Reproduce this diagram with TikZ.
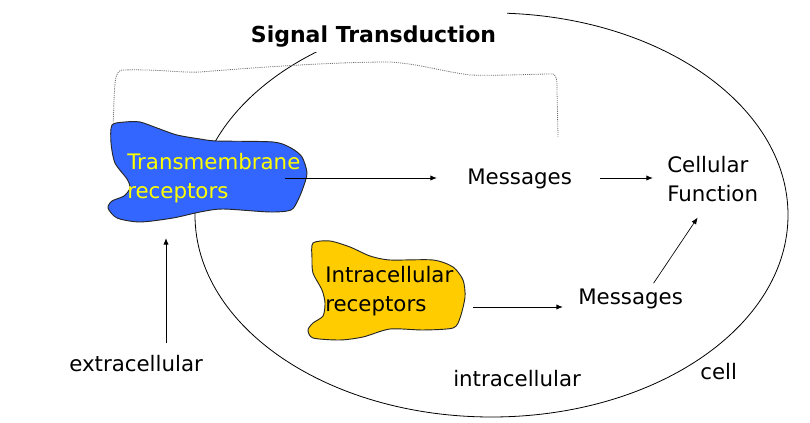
\documentclass[tikz,border=0pt]{standalone}
\usepackage{fontspec}
\setmainfont{DejaVu Sans}
\usepackage{xcolor}
\usetikzlibrary{arrows.meta}
\definecolor{tmblue}{HTML}{3366FF}
\definecolor{tmtext}{HTML}{FFFF00}
\definecolor{irgold}{HTML}{FFCC00}
\definecolor{dotgrey}{HTML}{6F6F6F}
\tikzset{
  lbl/.style={font=\fontsize{16}{21.75}\selectfont, inner sep=0pt,
    anchor=base west, align=left},
  arr/.style={-{Latex[length=5pt,width=4pt]}, line width=0.7pt},
  blob/.style={draw=black!85, line width=0.7pt}
}
\begin{document}
\begin{tikzpicture}[x=0.75pt, y=-0.75pt]
      \useasboundingbox (0,0) rectangle (810,423);
      % the cell
      \draw[line width=0.6pt] (491.5,215) ellipse [x radius=296.5, y radius=202];
      \fill[white] (240,8) rectangle (507,52);
      \node (title) [font=\fontsize{16.5}{20}\selectfont\bfseries, inner sep=0pt,
        anchor=base] at (373.5,43) {Signal Transduction};
      % dotted bracket over the receptor path
      \draw[dotgrey, line width=0.6pt, dash pattern=on 0.8pt off 0.8pt]
        (113,130) -- (114,100) .. controls (115,80) and (115,72) .. (122,70)
        .. controls (160,69) and (180,73) .. (200,72)
        .. controls (250,68) and (330,62) .. (390,62)
        .. controls (420,64) and (440,71) .. (470,75)
        .. controls (500,76) and (530,74) .. (553,74)
        .. controls (557,76) and (557,80) .. (557,90) -- (558,137);
      % receptor blobs
      \fill[tmblue] plot[smooth cycle, tension=0.45] coordinates {
        (112,125) (125,122) (140,122) (157,128) (177,135) (200,139)
        (217,141) (273,142) (291,148) (302,157) (307,173) (303,188)
        (298,200) (291,210) (270,212) (223,209) (200,212) (173,218)
        (140,222) (117,218) (108,208) (112,201) (124,196) (130,188)
        (127,179) (115,163) (111,143)};
      \draw[blob] plot[smooth cycle, tension=0.45] coordinates {
        (112,125) (125,122) (140,122) (157,128) (177,135) (200,139)
        (217,141) (273,142) (291,148) (302,157) (307,173) (303,188)
        (298,200) (291,210) (270,212) (223,209) (200,212) (173,218)
        (140,222) (117,218) (108,208) (112,201) (124,196) (130,188)
        (127,179) (115,163) (111,143)};
      \draw[blob, fill=irgold] plot[smooth cycle, tension=0.45] coordinates {
        (313,243) (330,241) (350,247) (370,256) (390,260) (433,260)
        (453,267) (463,280) (465,297) (460,318) (453,328) (423,330)
        (390,329) (363,337) (340,340) (313,338) (308,330) (313,323)
        (323,316) (325,303) (322,290) (313,273) (312,258)};
      % labels
      \node (tm) [lbl, text=tmtext] at (127,199) {Transmembrane\\receptors};
      \node (ir) [lbl] at (325,312) {Intracellular\\receptors};
      \node (msgA) [lbl] at (467,185) {Messages};
      \node (msgB) [lbl] at (578,305) {Messages};
      \node (cf) [lbl] at (667,202) {Cellular\\Function};
      \node (extra) [lbl] at (69,372) {extracellular};
      \node (intra) [lbl] at (453,387) {intracellular};
      \node (cell) [lbl] at (700,380) {cell};
      % arrows
      \coordinate (tmOut) at (285,178);
      \coordinate (irOut) at (473,307);
      \coordinate (tmBot) at (166,238);
      \draw[arr, shorten >=22.5pt] (tmOut) -- (tmOut -| msgA.west);
      \draw[arr, shorten <=21pt, shorten >=10.5pt] (msgA.east |- tmOut) -- (tmOut -| cf.west);
      \draw[arr, shorten >=11.25pt] (irOut) -- (irOut -| msgB.west);
      \draw[arr, line width=0.5pt] ([xshift=17.25pt, yshift=4.5pt]msgB.north)
        -- ([xshift=-11.25pt, yshift=-11.25pt]cf.south);
      \draw[arr, shorten <=9.75pt] (extra.north -| tmBot) -- (tmBot);
    \end{tikzpicture}
\end{document}
